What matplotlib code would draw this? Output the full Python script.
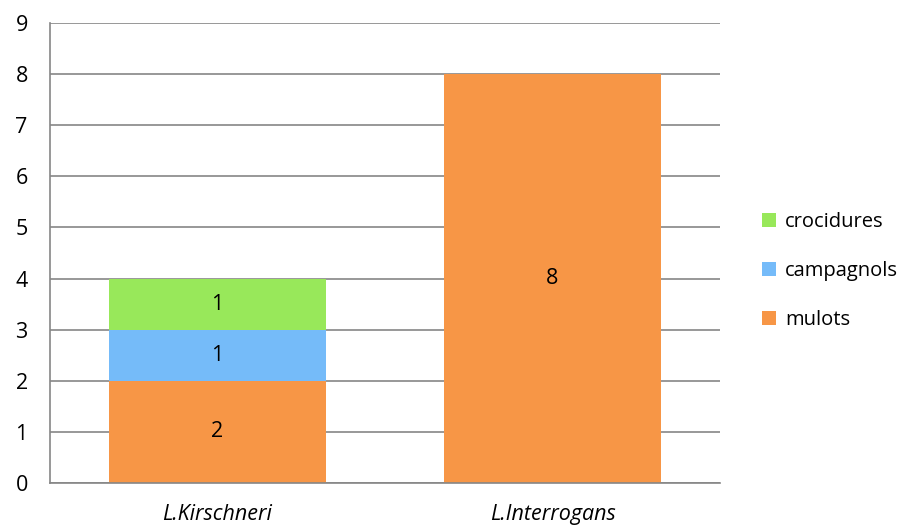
# Stacked bar chart - rodents per Leptospira species

import numpy as np
import matplotlib.pyplot as plt

plt.rcParams['font.family'] = ['Open Sans', 'DejaVu Sans']

# Data
categories = ['L.Kirschneri', 'L.Interrogans']
mulots = [2, 8]
campagnols = [1, 0]
crocidures = [1, 0]

colors = {'mulots': '#F79646', 'campagnols': '#75BBF9', 'crocidures': '#98E85A'}

fig = plt.figure(figsize=(9.16, 5.27), dpi=100)
ax = fig.add_axes([50/916, 44/527, 670/916, 460/527])

x = np.arange(len(categories))
width = 0.65
fs = 15.5

series = [('mulots', mulots), ('campagnols', campagnols), ('crocidures', crocidures)]
bottom = np.zeros(len(categories))
handles = []
for name, vals in series:
    vals = np.array(vals)
    bars = ax.bar(x, vals, width, bottom=bottom, color=colors[name], label=name, zorder=2)
    handles.append(bars)
    for xi, v, b in zip(x, vals, bottom):
        if v > 0:
            ax.text(xi, b + v / 2, str(v), ha='center', va='center', fontsize=fs, zorder=3)
    bottom += vals

ax.set_xlim(-0.5, 1.5)
ax.set_ylim(0, 9)
ax.set_yticks(range(0, 10))
ax.set_xticks(x)
ax.set_xticklabels(categories, style='italic')
ax.tick_params(axis='both', length=0, labelsize=fs)
ax.tick_params(axis='y', pad=16)
ax.tick_params(axis='x', pad=15)
ax.yaxis.grid(True, color='#868686', linewidth=1.2, zorder=0)
ax.set_axisbelow(True)
for s in ['top', 'right']:
    ax.spines[s].set_visible(False)
for s in ['left', 'bottom']:
    ax.spines[s].set_color('#868686')
    ax.spines[s].set_linewidth(1.2)

leg = fig.legend(handles[::-1], ['crocidures', 'campagnols', 'mulots'],
                 loc='center left', bbox_to_anchor=(752/916, 256/527), frameon=False,
                 fontsize=14.5, handlelength=0.7, handleheight=0.7,
                 labelspacing=1.45, handletextpad=0.45, borderpad=0)

fig.savefig('out.png')
